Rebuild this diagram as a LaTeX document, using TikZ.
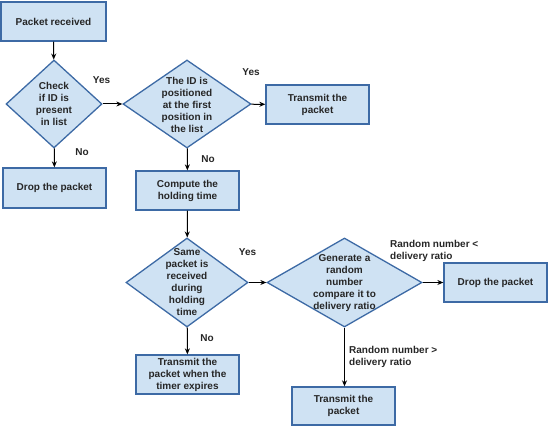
\documentclass[tikz,border=0pt]{standalone}
\usepackage{fontspec}
\setmainfont{Liberation Sans}
\usetikzlibrary{shapes.geometric,arrows.meta}
\definecolor{boxfill}{HTML}{CFE2F3}
\definecolor{boxline}{HTML}{3D6AA5}
\begin{document}
\begin{tikzpicture}[x=1pt,y=-1pt,
  every node/.style={font=\fontsize{10}{12}\selectfont\bfseries, text=black!85},
  procbox/.style={draw=boxline, fill=boxfill, line width=1.3pt, inner sep=0pt, align=center},
  decis/.style={diamond, draw=boxline, fill=boxfill, line width=1.3pt, inner sep=0pt},
  dtext/.style={align=center, inner sep=0pt},
  lbl/.style={inner sep=0pt},
  conn/.style={line width=1pt, -{Stealth[length=6pt,width=5pt]}}]
\useasboundingbox (0,0) rectangle (550,427);
% boxes
\node[procbox, minimum width=105, minimum height=39] (recv) at (53.5,21.5) {Packet received};
\node[procbox, minimum width=103, minimum height=40] (drop1) at (54.5,188) {Drop the packet};
\node[procbox, minimum width=103, minimum height=39] (tx1) at (317.5,104.5) {Transmit the\\packet};
\node[procbox, minimum width=103, minimum height=39] (hold) at (187.5,190.5) {Compute the\\holding time};
\node[procbox, minimum width=103, minimum height=39] (drop2) at (495.5,282.5) {Drop the packet};
\node[procbox, minimum width=103, minimum height=39] (txt) at (187.5,374.5) {Transmit the\\packet when the\\timer expires};
\node[procbox, minimum width=103, minimum height=38] (tx2) at (343.5,406) {Transmit the\\packet};
% diamonds
\node[decis, minimum width=96, minimum height=88] (d1) at (54,104) {};
\node[dtext] at (d1) {Check\\if ID is\\present\\in list};
\node[decis, minimum width=128, minimum height=88] (d2) at (187,104) {};
\node[dtext] at (187,105) {The ID is\\positioned\\at the first\\position in\\the list};
\node[decis, minimum width=122, minimum height=89] (d3) at (187,282.5) {};
\node[dtext] at (187,282.5) {Same\\packet is\\received\\during\\holding\\time};
\node[decis, minimum width=155, minimum height=89] (d4) at (344.5,282.5) {};
\node[dtext] at (344.5,283) {Generate a\\random\\number\\compare it to\\delivery ratio};
% connectors
\draw[conn] (recv) -- (d1);
\draw[conn] (d1) -- (d2);
\draw[conn] (d2) -- (tx1);
\draw[conn] (d1) -- (drop1);
\draw[conn] (d2) -- (hold);
\draw[conn] (hold) -- (d3);
\draw[conn] (d3) -- (d4);
\draw[conn] (d3) -- (txt);
\draw[conn] (d4) -- (drop2);
\draw[conn] (d4.south) -- (tx2.north -| d4.south);
% labels
\node[lbl] (y1) at (101.5,80) {Yes};
\node[lbl] (y2) at (251,72) {Yes};
\node[lbl] (y3) at (247.5,252) {Yes};
\node[lbl] (n1) at (82,152) {No};
\node[lbl] (n2) at (208,159) {No};
\node[lbl] (n3) at (207,338) {No};
\node[lbl, anchor=west, align=left] (r1) at (390,250.5) {Random number <\\delivery ratio};
\node[lbl, anchor=west, align=left] (r2) at (349,356.5) {Random number >\\delivery ratio};
\end{tikzpicture}
\end{document}
